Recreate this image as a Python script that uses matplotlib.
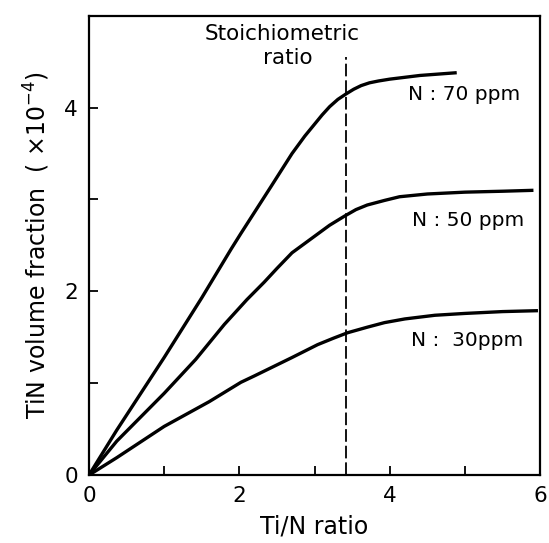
import matplotlib
matplotlib.use("Agg")
import matplotlib.pyplot as plt

# Data
x70 = [0, 0.37, 1.0, 1.5, 1.89, 2.02, 2.42, 2.7, 2.87, 3.0, 3.1, 3.2, 3.31, 3.42, 3.52, 3.62, 3.73, 3.85, 4.0, 4.4, 4.89]
y70 = [0, 0.49, 1.28, 1.93, 2.46, 2.63, 3.14, 3.50, 3.69, 3.82, 3.92, 4.01, 4.09, 4.15, 4.20, 4.24, 4.27, 4.29, 4.31, 4.35, 4.38]

x50 = [0, 0.37, 1.0, 1.42, 1.8, 2.1, 2.33, 2.5, 2.7, 3.0, 3.2, 3.4, 3.55, 3.7, 3.93, 4.13, 4.5, 5.0, 5.5, 5.91]
y50 = [0, 0.37, 0.89, 1.26, 1.64, 1.91, 2.10, 2.25, 2.42, 2.60, 2.72, 2.82, 2.89, 2.94, 2.99, 3.03, 3.06, 3.08, 3.09, 3.10]

x30 = [0, 0.37, 1.0, 1.6, 2.02, 2.2, 2.45, 2.7, 3.04, 3.25, 3.44, 3.7, 3.93, 4.2, 4.6, 5.0, 5.5, 5.97]
y30 = [0, 0.19, 0.53, 0.80, 1.01, 1.08, 1.18, 1.28, 1.42, 1.49, 1.55, 1.61, 1.66, 1.70, 1.74, 1.76, 1.78, 1.79]

stoich_x = 3.42
series_labels = ["N : 70 ppm", "N : 50 ppm", "N :  30ppm"]
xticks = [0, 1, 2, 3, 4, 5, 6]
xticklabels = ["0", "", "2", "", "4", "", "6"]
yticks = [0, 1, 2, 3, 4]
yticklabels = ["0", "", "2", "", "4"]

plt.rcParams['font.family'] = ['DejaVu Sans']
fig = plt.figure(figsize=(5.49, 5.43), dpi=100)
ax = fig.add_axes([0.162, 0.125, 0.822, 0.846])

lw = 2.4
for xs, ys in [(x70, y70), (x50, y50), (x30, y30)]:
    ax.plot(xs, ys, color='black', lw=lw, solid_capstyle='butt', solid_joinstyle='round')

ax.plot([stoich_x, stoich_x], [0, 4.55], color='black', lw=1.3, dashes=(7, 2.2))

fs = 15.5
ax.text(2.57, 4.74, "Stoichiometric", ha='center', va='baseline', fontsize=fs)
ax.text(2.64, 4.47, "ratio", ha='center', va='baseline', fontsize=fs)

fs_lab = 14.5
ax.text(4.24, 4.14, series_labels[0], ha='left', va='center', fontsize=fs_lab)
ax.text(4.30, 2.77, series_labels[1], ha='left', va='center', fontsize=fs_lab)
ax.text(4.28, 1.46, series_labels[2], ha='left', va='center', fontsize=fs_lab)

ax.set_xlim(0, 6)
ax.set_ylim(0, 5)
ax.set_xticks(xticks)
ax.set_xticklabels(xticklabels)
ax.set_yticks(yticks)
ax.set_yticklabels(yticklabels)
ax.tick_params(direction='in', length=6.5, width=1.3, labelsize=15.5, pad=8)

for s in ax.spines.values():
    s.set_linewidth(1.6)

ax.set_xlabel("Ti/N ratio", fontsize=17, labelpad=6)
ax.set_ylabel(r"TiN volume fraction  ( ×10$^{-4}$)", fontsize=17, labelpad=9)

fig.savefig("out.png", dpi=100)
